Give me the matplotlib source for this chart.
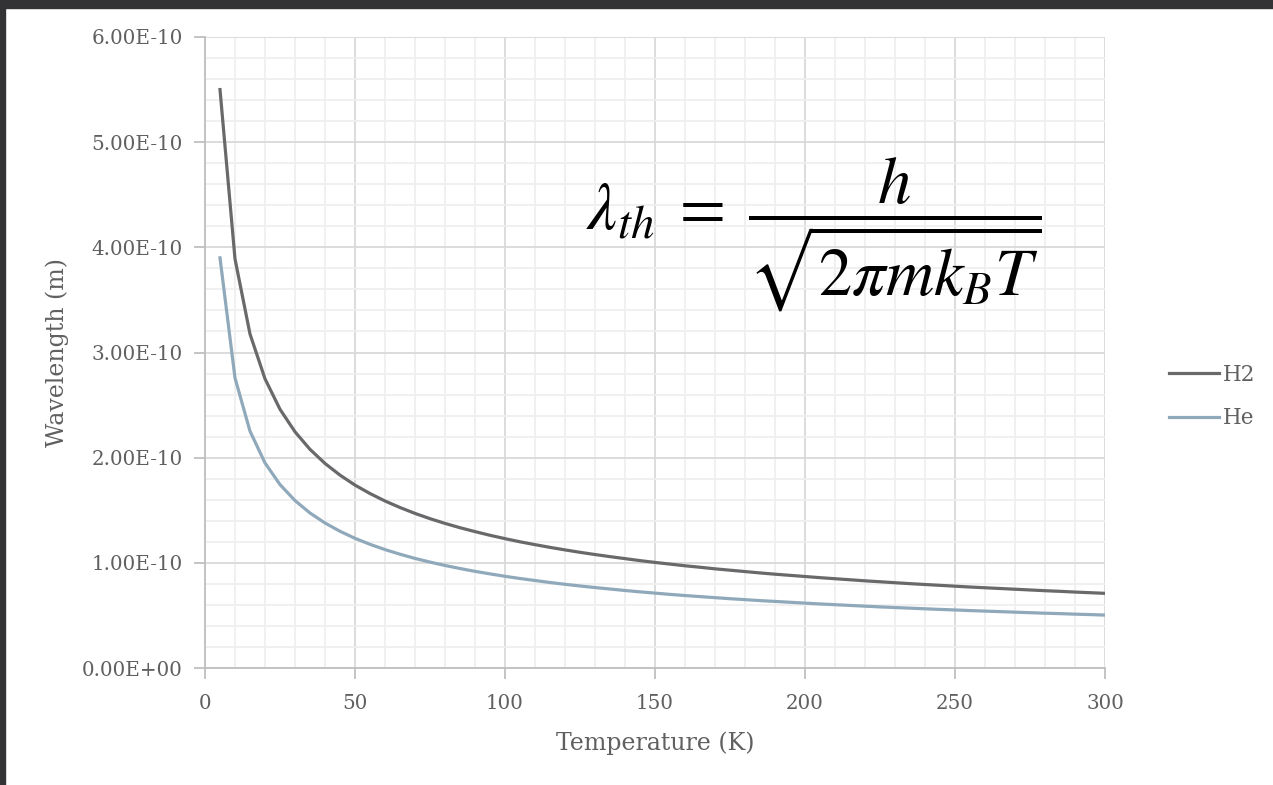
import numpy as np
import matplotlib.pyplot as plt
import matplotlib.patches as patches
from matplotlib.ticker import FixedLocator

# temperature (K)
temps = [5, 10, 15, 20, 25, 30, 35, 40, 45, 50, 55, 60, 65, 70, 75, 80, 85, 90, 95, 100,
         105, 110, 115, 120, 125, 130, 135, 140, 145, 150, 155, 160, 165, 170, 175, 180, 185, 190, 195, 200,
         205, 210, 215, 220, 225, 230, 235, 240, 245, 250, 255, 260, 265, 270, 275, 280, 285, 290, 295, 300]

# thermal wavelength, units of 1e-10 m
h2 = [5.500, 3.890, 3.176, 2.750, 2.460, 2.246, 2.079, 1.945, 1.834, 1.739,
      1.659, 1.588, 1.526, 1.470, 1.420, 1.375, 1.334, 1.297, 1.262, 1.230,
      1.200, 1.173, 1.147, 1.123, 1.100, 1.079, 1.059, 1.040, 1.021, 1.004,
      0.988, 0.972, 0.958, 0.943, 0.930, 0.917, 0.904, 0.892, 0.881, 0.870,
      0.859, 0.849, 0.839, 0.829, 0.820, 0.811, 0.802, 0.794, 0.786, 0.778,
      0.770, 0.763, 0.756, 0.749, 0.742, 0.735, 0.729, 0.722, 0.716, 0.710]
he = [3.900, 2.758, 2.252, 1.950, 1.744, 1.592, 1.474, 1.379, 1.300, 1.233,
      1.176, 1.126, 1.082, 1.042, 1.007, 0.975, 0.946, 0.919, 0.895, 0.872,
      0.851, 0.832, 0.813, 0.796, 0.780, 0.765, 0.751, 0.737, 0.724, 0.712,
      0.700, 0.689, 0.679, 0.669, 0.659, 0.650, 0.641, 0.633, 0.625, 0.617,
      0.609, 0.602, 0.595, 0.588, 0.581, 0.575, 0.569, 0.563, 0.557, 0.552,
      0.546, 0.541, 0.536, 0.531, 0.526, 0.521, 0.517, 0.512, 0.508, 0.503]

x_ticks = [0, 50, 100, 150, 200, 250, 300]
y_ticks = [0, 1e-10, 2e-10, 3e-10, 4e-10, 5e-10, 6e-10]
y_labels = ['0.00E+00', '1.00E-10', '2.00E-10', '3.00E-10', '4.00E-10', '5.00E-10', '6.00E-10']

plt.rcParams['font.family'] = ['DejaVu Serif']
plt.rcParams['mathtext.fontset'] = 'stix'
txt = '#606060'

fig = plt.figure(figsize=(12.73, 7.85), dpi=100)
# dark window frame on top and left
fig.patches.append(patches.Rectangle((0, 1 - 8 / 785), 1, 8 / 785, transform=fig.transFigure,
                                     color='#333335', zorder=0))
fig.patches.append(patches.Rectangle((0, 0), 5 / 1273, 1, transform=fig.transFigure,
                                     color='#333335', zorder=0))

ax = fig.add_axes([205 / 1273, 117 / 785, 900 / 1273, 631 / 785])

T = np.array(temps)
ax.plot(T, np.array(h2) * 1e-10, color='#69696c', lw=2.3, label='H2', zorder=3)
ax.plot(T, np.array(he) * 1e-10, color='#8fa9bb', lw=2.3, label='He', zorder=3)

ax.set_xlim(0, 300)
ax.set_ylim(0, 6e-10)
ax.set_xticks(x_ticks)
ax.set_yticks(y_ticks)
ax.set_yticklabels(y_labels)
ax.xaxis.set_minor_locator(FixedLocator(np.arange(0, 301, 10)))
ax.yaxis.set_minor_locator(FixedLocator(np.arange(0, 31) * 2e-11))
ax.yaxis.offsetText.set_visible(False)

ax.grid(which='minor', color='#efefef', lw=1.3, zorder=0)
ax.grid(which='major', color='#d9d9d9', lw=1.3, zorder=1)
ax.set_axisbelow(True)

for s in ['top', 'right']:
    ax.spines[s].set_visible(False)
for s in ['left', 'bottom']:
    ax.spines[s].set_color('#bfbfbf')
    ax.spines[s].set_linewidth(1.3)

ax.tick_params(which='major', length=8, width=1.3, color='#bfbfbf', labelcolor=txt, labelsize=14.3)
ax.tick_params(axis='y', pad=8)
ax.tick_params(axis='x', pad=11)
ax.tick_params(which='minor', length=0)

ax.set_xlabel('Temperature (K)', fontsize=17, color=txt, labelpad=13)
ax.set_ylabel('Wavelength (m)', fontsize=17, color=txt, labelpad=9)

ax.text(0.677, 0.686, r'$\lambda_{th}\;=\;\dfrac{h}{\sqrt{2\pi m k_B T}}$', transform=ax.transAxes,
        fontsize=48, ha='center', va='center', color='black')

leg = ax.legend(loc='center left', bbox_to_anchor=(1.05, 0.43), frameon=False, fontsize=15.5,
                handlelength=2.3, handletextpad=0.2, labelspacing=1.0)
for t in leg.get_texts():
    t.set_color(txt)

fig.savefig('out.png', dpi=100)
